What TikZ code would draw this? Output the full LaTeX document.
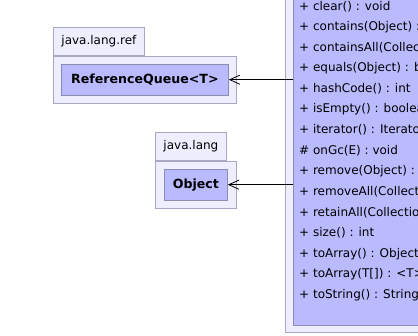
\documentclass[tikz,border=0pt]{standalone}
\usepackage{fontspec}
\setmainfont{DejaVu Sans}
\usetikzlibrary{arrows.meta, positioning}
\definecolor{pkgfill}{HTML}{EEEEFF}
\definecolor{pkgline}{HTML}{A8A8C4}
\definecolor{clsfill}{HTML}{BABAFF}
\definecolor{clsline}{HTML}{8C8CB4}
\tikzset{
    pkgtab/.style={rectangle, draw=pkgline, fill=pkgfill, line width=0.8pt, inner sep=0pt, minimum height=28pt, font=\fontsize{12}{14}\selectfont},
    pkgbody/.style={rectangle, draw=pkgline, fill=pkgfill, line width=0.8pt, inner sep=0pt, anchor=north west},
    classbox/.style={rectangle, draw=clsline, fill=clsfill, line width=0.8pt, inner sep=0pt, font=\fontsize{12.6}{14}\selectfont\bfseries},
    member/.style={anchor=west, inner sep=0pt, font=\fontsize{12}{14}\selectfont},
    dep/.style={-{Straight Barb[length=10pt, width=9pt]}, line width=0.8pt, black}
}

\begin{document}
\begin{tikzpicture}[x=1pt, y=-1pt]
    \useasboundingbox (0,0) rectangle (418,336);
    \clip (0,0) rectangle (418,336);

    % the collection class on the right, cut by the page edge
    \node [pkgbody, anchor=south west, minimum width=180pt, minimum height=370pt] (utilpkg) at (285,333) {};
    \node [classbox, anchor=south west, minimum width=170pt, minimum height=360pt] (coll) at (293,326) {};
    \foreach \m [count=\i from 0] in {%
        + clear() : void,
        + contains(Object) : boolean,
        + containsAll(Collection) : boolean,
        + equals(Object) : boolean,
        + hashCode() : int,
        + isEmpty() : boolean,
        + iterator() : Iterator<E>,
        \# onGc(E) : void,
        + remove(Object) : boolean,
        + removeAll(Collection) : boolean,
        + retainAll(Collection) : boolean,
        + size() : int,
        + toArray() : Object[],
        + toArray(T[]) : <T> T[],
        + toString() : String}
        \node [member] (m\i) at (299, 6.5+20.6*\i) {\m};

    % java.lang.ref
    \node [pkgtab, anchor=north west, minimum width=91pt] (reftab) at (53,27) {java.lang.ref};
    \node [pkgbody, minimum width=183pt, minimum height=47pt] (refpkg) at (reftab.south west) {};
    \node [classbox, minimum width=167pt, minimum height=31pt] (queue) at (refpkg.center) {ReferenceQueue<T>};

    % java.lang
    \node [pkgtab, anchor=north west, minimum width=71pt] (langtab) at (155,132) {java.lang};
    \node [pkgbody, minimum width=81pt, minimum height=47pt] (langpkg) at (langtab.south west) {};
    \node [classbox, minimum width=63pt, minimum height=31pt] (object) at (langpkg.center) {Object};

    \draw [dep] (queue -| coll.west) -- (queue);
    \draw [dep] (object -| coll.west) -- (object);
\end{tikzpicture}
\end{document}
